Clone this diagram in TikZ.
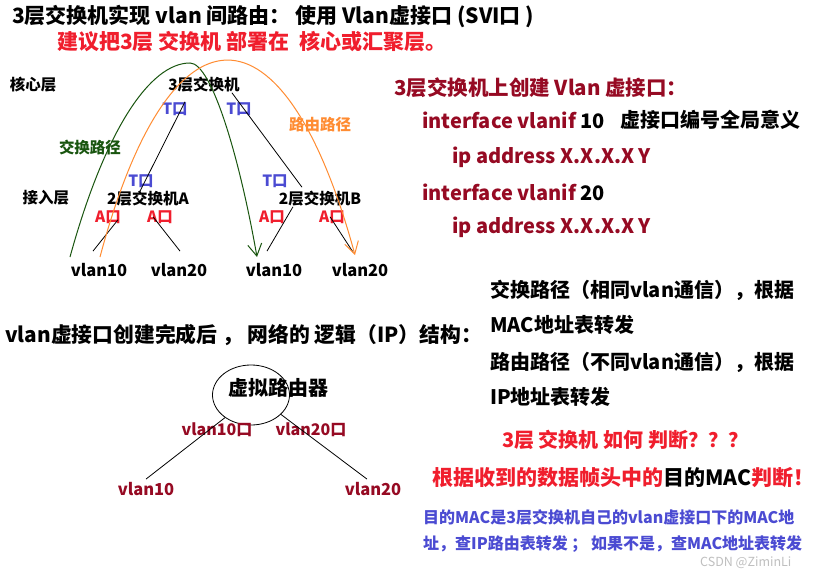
\documentclass[tikz,border=0pt]{standalone}
\usepackage{fontspec}
\setmainfont{Noto Sans CJK SC}
\usepackage{tikz}
\usetikzlibrary{arrows.meta, positioning, shapes.geometric}
\definecolor{darkred1}{RGB}{150, 10, 35}
\definecolor{red1}{RGB}{240, 30, 45}
\definecolor{blue1}{RGB}{75, 75, 210}
\definecolor{green1}{RGB}{25, 85, 15}
\definecolor{orange1}{RGB}{255, 140, 50}

\begin{document}
\begin{tikzpicture}[x=1pt, y=-1pt,
  every node/.style={inner sep=0pt},
  txt/.style={font=\fontsize{20}{24}\selectfont\bfseries, anchor=west},
  big/.style={font=\fontsize{21}{25}\selectfont\bfseries, anchor=west},
  lab/.style={font=\fontsize{15.5}{18}\selectfont\bfseries},
  vl/.style={font=\fontsize{16.5}{19}\selectfont\bfseries},
  link/.style={black, line width=0.8pt},
  route/.style={line width=1pt, -{Straight Barb[length=12pt, width=14pt, line width=1pt]}}]
  \useasboundingbox (0,0) rectangle (815,578);
  \fill[white] (0,0) rectangle (815,578);

  % Title
  \node[big] (title) at (12,17) {3层交换机实现 vlan 间路由：  使用 Vlan虚接口 (SVI口 )};
  \node[big, red1] (advice) at (57,42) {建议把3层 交换机 部署在 \ 核心或汇聚层。};

  % Physical topology
  \node[lab] (coreL) at (33,85) {核心层};
  \node[lab] (accL) at (46,198) {接入层};
  \node[lab] (core) at (204,85) {3层交换机};
  \node[lab] (swA) at (148,199) {2层交换机A};
  \node[lab] (swB) at (320,199) {2层交换机B};
  \node[lab, blue1] (tp1) at (175,109) {T口};
  \node[lab, blue1] (tp2) at (239,109) {T口};
  \node[lab, blue1] (tp3) at (141,181) {T口};
  \node[lab, blue1] (tp4) at (275,181) {T口};
  \node[lab, red1] (ap1) at (108,217) {A口};
  \node[lab, red1] (ap2) at (160,217) {A口};
  \node[lab, red1] (ap3) at (272,217) {A口};
  \node[lab, red1] (ap4) at (332,217) {A口};
  \node[vl] (hA1) at (99,270) {vlan10};
  \node[vl] (hA2) at (179,270) {vlan20};
  \node[vl] (hB1) at (274,270) {vlan10};
  \node[vl] (hB2) at (360,270) {vlan20};
  \node[lab, green1] (swLab) at (90,148) {交换路径};
  \node[lab, orange1] (rtLab) at (320,125) {路由路径};

  \draw[link] ([xshift=-19pt, yshift=-9pt]core.south) -- ([xshift=-8pt]swA.north);
  \draw[link] ([xshift=-8pt]core.south east) -- ([xshift=-18pt, yshift=4pt]swB.north);
  \draw[link] ([xshift=-30pt, yshift=-13pt]swA.south) -- ([xshift=-6pt, yshift=12pt]hA1.north);
  \draw[link] ([xshift=5pt, yshift=-10pt]swA.south) -- ([xshift=1pt, yshift=12pt]hA2.north);
  \draw[link] ([xshift=-27pt]swB.south) -- ([xshift=-7pt, yshift=12pt]hB1.north);
  \draw[link] ([xshift=10pt, yshift=-10pt]swB.south) -- ([xshift=-7pt, yshift=11pt]hB2.north);

  % Paths
  \coordinate (swS) at (70,257);
  \coordinate (swE) at (257,257);
  \coordinate (rtS) at (100,257);
  \coordinate (rtE) at (355,255);
  \draw[route, green1] (swS) .. controls (105,130) and (150,63) .. (190,63)
    .. controls (212,63) and (240,160) .. (swE);
  \draw[route, orange1] (rtS) .. controls (170,-5) and (284,-5) .. (rtE);

  % Configuration
  \node[txt, darkred1, font=\fontsize{20.5}{24}\selectfont\bfseries] (cfgT) at (394,88) {3层交换机上创建 Vlan 虚接口：};
  \node[txt, darkred1] (cfg1) at (422,120) {interface vlanif \textcolor{black}{10}};
  \node[txt] (cfgNote) at (620,120) {虚接口编号全局意义};
  \node[txt, darkred1] (cfg2) at (452,157) {ip address X.X.X.X Y};
  \node[txt, darkred1] (cfg3) at (422,192) {interface vlanif \textcolor{black}{20}};
  \node[txt, darkred1] (cfg4) at (452,227) {ip address X.X.X.X Y};

  % Logical structure
  \node[big, font=\fontsize{20.8}{25}\selectfont\bfseries] (logic) at (5,335) {vlan虚接口创建完成后 ， 网络的 逻辑（IP）结构：};
  \node[draw, ellipse, line width=0.8pt, minimum width=77pt, minimum height=60pt] (vr) at (251,395) {};
  \node[txt, anchor=center] (vrTxt) at (278,388) {虚拟路由器};
  \node[vl, darkred1, font=\fontsize{16}{19}\selectfont\bfseries] (p10) at (217,430) {vlan10口};
  \node[vl, darkred1, font=\fontsize{16}{19}\selectfont\bfseries] (p20) at (311,430) {vlan20口};
  \node[vl, darkred1] (lv10) at (146,489) {vlan10};
  \node[vl, darkred1] (lv20) at (373,489) {vlan20};
  \draw[link] (vr.221) -- ([yshift=3pt]lv10.north);
  \draw[link] (vr.327) -- ([xshift=-6pt, yshift=3pt]lv20.north);

  % Explanation
  \node[txt] (ex1) at (490,290) {交换路径（相同vlan通信），根据};
  \node[txt] (ex2) at (490,325) {MAC地址表转发};
  \node[txt] (ex3) at (490,362) {路由路径（不同vlan通信），根据};
  \node[txt] (ex4) at (490,397) {IP地址表转发};
  \node[txt, red1] (ask) at (502,440) {3层 交换机 如何 判断？？？};
  \node[big, red1] (ans) at (432,478) {根据收到的数据帧头中的\textcolor{black}{目的MAC}判断！};
  \node[txt, blue1, font=\fontsize{16}{19}\selectfont\bfseries] (rule1) at (423,517) {目的MAC是3层交换机自己的vlan虚接口下的MAC地};
  \node[txt, blue1, font=\fontsize{16}{19}\selectfont\bfseries] (rule2) at (423,544) {址，查IP路由表转发 ； 如果不是，查MAC地址表转发};
  \node[txt, black!25, font=\fontsize{12.5}{15}\selectfont] (mark) at (700,563) {CSDN @ZiminLi};
\end{tikzpicture}
\end{document}
